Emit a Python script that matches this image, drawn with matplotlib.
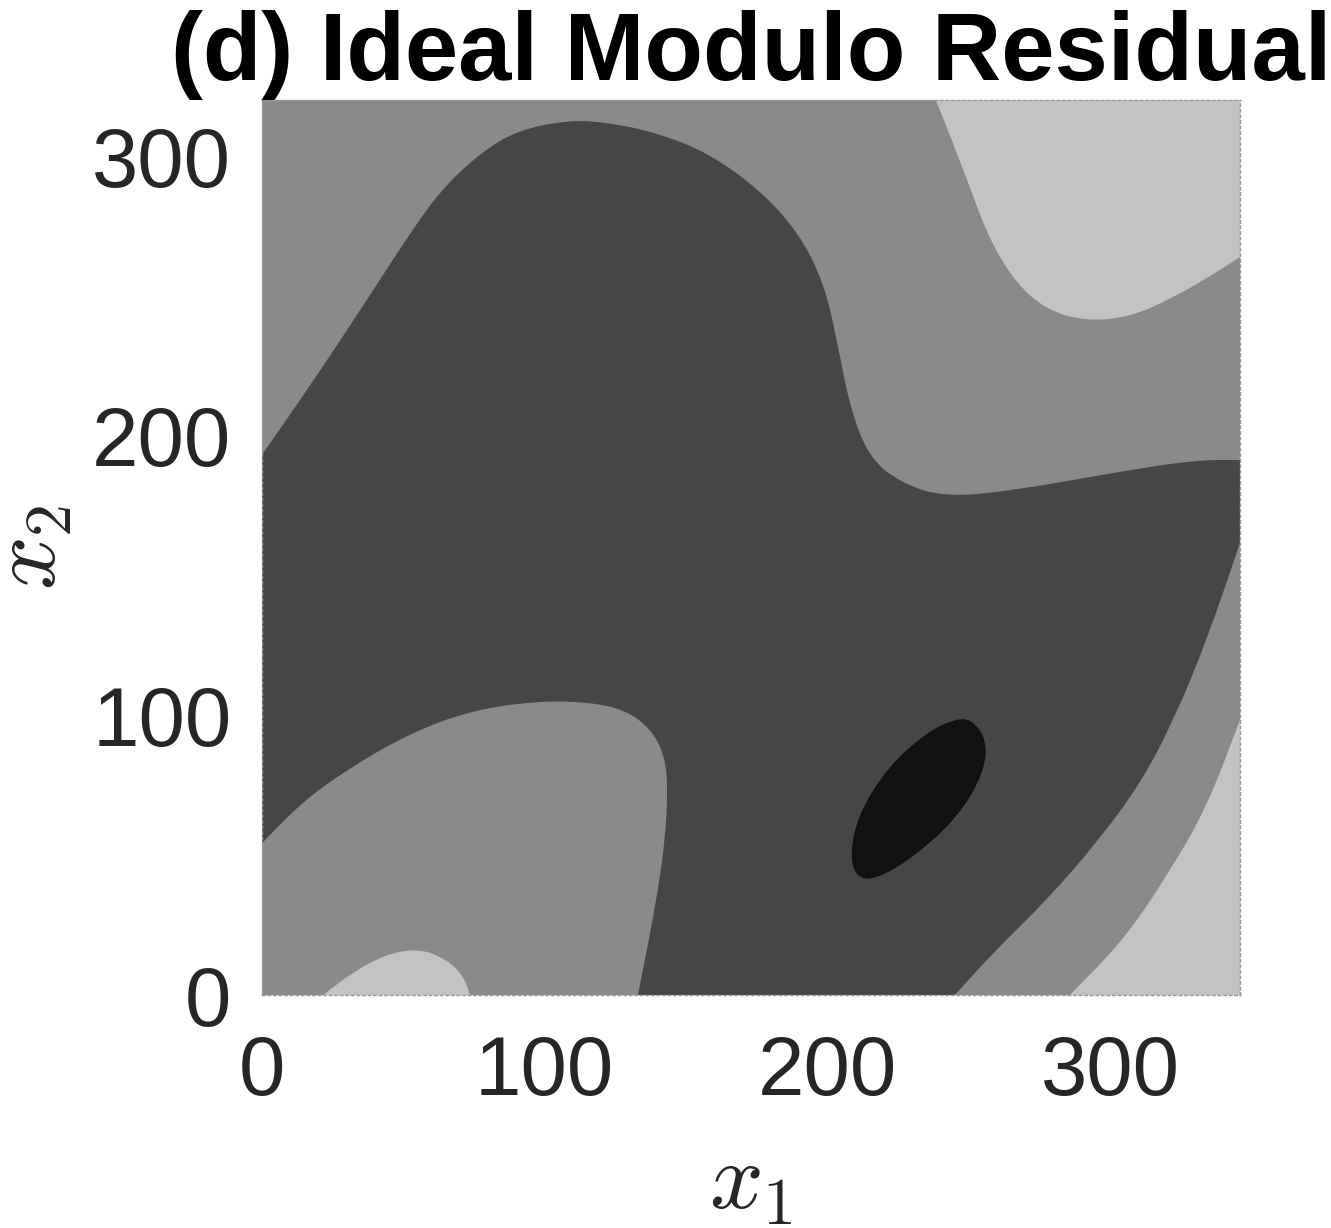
import numpy as np
import matplotlib
matplotlib.use("Agg")
import matplotlib.pyplot as plt
from matplotlib.path import Path
from matplotlib.patches import PathPatch

# level colours (light -> black)
c_light = "#c3c3c3"
c_mid = "#8a8a8a"
c_dark = "#464646"
c_black = "#111111"

x_max = 346
y_max = 320

# boundaries, in data units
# top-right light patch (edge from top border round to right border)
tr_light_x = [238.4, 244.1, 250.8, 257.5, 266.7, 277.7, 291.5, 307.0, 323.0, 338.9, 346.0, 346.0]
tr_light_y = [320.0, 305.7, 287.8, 269.9, 254.6, 244.9, 241.0, 242.4, 249.6, 259.2, 263.9, 320.0]

# bottom-right light patch
br_light_x = [346.0, 334.3, 320.8, 304.9, 285.8, 346.0]
br_light_y = [98.3, 67.2, 43.6, 19.7, 0.0, 0.0]

# bottom-left light patch
bl_light_x = [21.6, 31.8, 43.2, 55.5, 65.8, 71.5, 73.6]
bl_light_y = [0.0, 7.9, 14.3, 16.8, 12.5, 6.4, 0.0]

# dark band: upper edge (left -> right)
dark_top_x = [0.0, 18.4, 36.4, 52.4, 63.3, 77.1, 90.6, 108.6, 122.0, 140.1, 158.1, 176.2,
              190.0, 198.8, 203.4, 208.0, 214.7, 226.0, 241.6, 266.7, 300.3, 329.7, 346.0]
dark_top_y = [193.1, 219.9, 247.4, 272.4, 287.8, 301.0, 309.3, 312.8, 312.1, 308.2, 301.0, 287.8,
              272.4, 254.6, 234.2, 210.2, 192.3, 183.1, 178.0, 180.5, 186.6, 191.3, 191.3]
# dark band: right/lower edge (right border -> bottom border)
dark_right_x = [346.0, 334.3, 323.0, 311.6, 296.1, 277.7, 259.6, 245.1]
dark_right_y = [161.6, 126.9, 99.4, 76.9, 55.4, 34.0, 16.1, 0.0]
# dark band: edge of the mid tongue (bottom border -> left border)
dark_tongue_x = [133.0, 136.9, 140.1, 142.6, 143.6, 142.6, 138.0, 128.8, 115.3, 97.3, 74.6,
                 52.4, 29.7, 13.8, 0.0]
dark_tongue_y = [0.0, 19.7, 37.5, 55.4, 73.3, 85.1, 94.7, 101.9, 104.8, 105.1, 101.9,
                 93.7, 80.4, 68.6, 54.3]

# black blob
black_x = [250.8, 256.5, 255.4, 246.2, 230.6, 216.8, 210.1, 208.0, 211.2, 221.4, 234.9, 244.1]
black_y = [99.0, 91.2, 79.4, 63.6, 49.3, 41.1, 42.2, 50.8, 65.1, 81.5, 93.7, 98.3]

x_ticks = [0, 100, 200, 300]
y_ticks = [0, 100, 200, 300]


def smooth_patch(xs, ys, color):
    # closed quadratic-bezier outline using the read points as control points;
    # points on the plot border are kept as sharp corners
    pts = []
    for x, y in zip(xs, ys):
        pts.append((x, y))
        if x in (0, x_max) or y in (0, y_max):
            pts.append((x, y))
    pts = np.array(pts, dtype=float)
    n = len(pts)
    mids = (pts + np.roll(pts, -1, axis=0)) / 2
    verts = [mids[-1]]
    codes = [Path.MOVETO]
    for i in range(n):
        verts += [pts[i], mids[i]]
        codes += [Path.CURVE3, Path.CURVE3]
    verts.append(mids[-1])
    codes.append(Path.CLOSEPOLY)
    return PathPatch(Path(verts, codes), facecolor=color, edgecolor="none")


plt.rcParams["mathtext.fontset"] = "cm"
font = "Liberation Sans"

fig = plt.figure(figsize=(13.31, 12.28), dpi=100)
ax = fig.add_axes([0.1968, 0.1897, 0.7348, 0.7288])
ax.set_facecolor(c_mid)

ax.add_patch(smooth_patch(tr_light_x, tr_light_y, c_light))
ax.add_patch(smooth_patch(br_light_x, br_light_y, c_light))
ax.add_patch(smooth_patch(bl_light_x, bl_light_y, c_light))
ax.add_patch(smooth_patch(dark_top_x + dark_right_x + dark_tongue_x,
                          dark_top_y + dark_right_y + dark_tongue_y, c_dark))
ax.add_patch(smooth_patch(black_x, black_y, c_black))

ax.set_xlim(0, x_max)
ax.set_ylim(0, y_max)
ax.set_xticks(x_ticks)
ax.set_yticks(y_ticks)
ax.tick_params(length=0, labelsize=60, colors="#262626", pad=22)
ax.tick_params(axis="x", pad=28)
for lab in ax.get_xticklabels() + ax.get_yticklabels():
    lab.set_fontfamily(font)

for sp in ax.spines.values():
    sp.set_color("#9a9a9a")
    sp.set_linewidth(1)
    sp.set_linestyle((0, (2, 2)))

ax.set_xlabel(r"$x_1$", fontsize=68, color="#262626", labelpad=18)
ax.set_ylabel(r"$x_2$", fontsize=68, color="#262626", labelpad=12)
ax.set_title("(d) Ideal Modulo Residual", fontsize=69, fontweight="bold",
             fontfamily=font, pad=14)

fig.savefig("out.png", dpi=100)
